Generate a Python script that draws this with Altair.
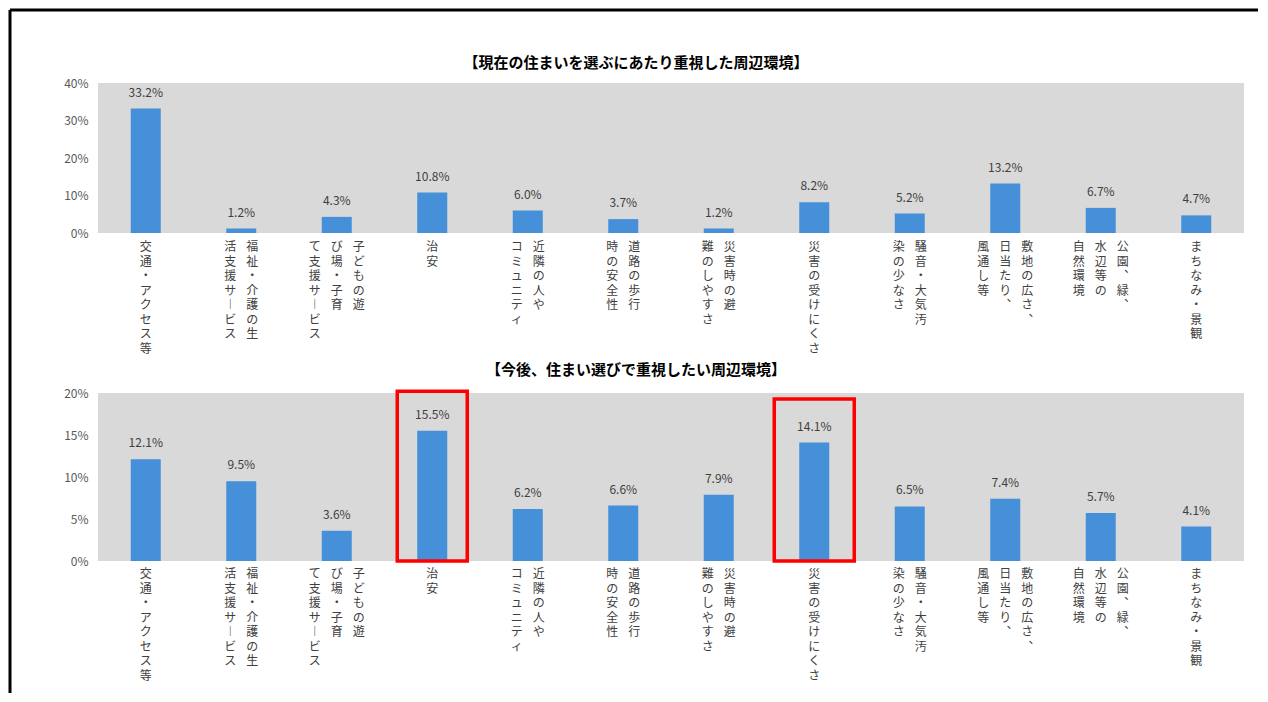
import altair as alt
import pandas as pd

# ---------------- data ----------------
cats = [
    "交通・アクセス等",
    "福祉・介護の生活支援サービス",
    "子どもの遊び場・子育て支援サービス",
    "治安",
    "近隣の人やコミュニティ",
    "道路の歩行時の安全性",
    "災害時の避難のしやすさ",
    "災害の受けにくさ",
    "騒音・大気汚染の少なさ",
    "敷地の広さ、日当たり、風通し等",
    "公園、緑、水辺等の自然環境",
    "まちなみ・景観",
]
# label columns (right-to-left vertical writing)
label_cols = [
    ["交通・アクセス等"],
    ["福祉・介護の生", "活支援サービス"],
    ["子どもの遊", "び場・子育", "て支援サービス"],
    ["治安"],
    ["近隣の人や", "コミュニティ"],
    ["道路の歩行", "時の安全性"],
    ["災害時の避", "難のしやすさ"],
    ["災害の受けにくさ"],
    ["騒音・大気汚", "染の少なさ"],
    ["敷地の広さ、", "日当たり、", "風通し等"],
    ["公園、緑、", "水辺等の", "自然環境"],
    ["まちなみ・景観"],
]
current = [33.2, 1.2, 4.3, 10.8, 6.0, 3.7, 1.2, 8.2, 5.2, 13.2, 6.7, 4.7]
future = [12.1, 9.5, 3.6, 15.5, 6.2, 6.6, 7.9, 14.1, 6.5, 7.4, 5.7, 4.1]
top_ticks = [0, 10, 20, 30, 40]
bot_ticks = [0, 5, 10, 15, 20]
title_top_text = "【現在の住まいを選ぶにあたり重視した周辺環境】"
title_bot_text = "【今後、住まい選びで重視したい周辺環境】"
highlight = ["治安", "災害の受けにくさ"]

# ---------------- layout constants ----------------
W = 1146
TOP_H = 150
BOT_TOP, BOT_BOT = 310, 478
BLUE = "#4590d8"
GREY = "#d9d9d9"
FONT = "Noto Sans CJK JP"
COL_SP = 22

VMAP = {"ー": "︱", "、": "︑"}


def vert(s):
    return "\n".join(VMAP.get(c, c) for c in s)


rows = []
for c, cols in zip(cats, label_cols):
    n = len(cols)
    for j, t in enumerate(cols):
        rows.append({"cat": c, "n": n, "j": j, "t": vert(t)})
labels_df = pd.DataFrame(rows)

df_top = pd.DataFrame({"cat": cats, "v": current})
df_bot = pd.DataFrame({"cat": cats, "v": future})
one = pd.DataFrame({"a": [0]})

xenc = alt.X("cat:N", sort=cats, scale=alt.Scale(paddingInner=0, paddingOuter=0), axis=None)


def panel(df, ymax, rng, ticks, label_dy, title_text, title_dy):
    yscale = alt.Scale(domain=[0, ymax], range=rng, nice=False, zero=True)
    yaxis = alt.Axis(values=ticks, labelExpr="datum.value + '%'", orient="left",
                     ticks=False, domain=False, grid=False, labelPadding=10,
                     labelFontSize=12, labelColor="#595959", labelFont=FONT, title=None)
    bg = alt.Chart(one).mark_rect(color=GREY).encode(
        x=alt.value(0), x2=alt.value(W),
        y=alt.YDatum(0, axis=yaxis, scale=yscale, title=None), y2=alt.Y2Datum(ymax),
    )
    bars = alt.Chart(df).mark_bar(size=30, color=BLUE).encode(
        x=xenc,
        y=alt.Y("v:Q", scale=yscale, title=None, axis=yaxis),
    )
    vals = alt.Chart(df).transform_calculate(
        lbl="format(datum.v, '.1f') + '%'"
    ).mark_text(baseline="bottom", dy=-9, fontSize=12, color="#404040").encode(
        x=xenc, y=alt.Y("v:Q", axis=yaxis, title=None), text="lbl:N"
    )
    labs = []
    for n in (1, 2, 3):
        for j in range(n):
            labs.append(
                alt.Chart(labels_df).transform_filter(
                    (alt.datum.n == n) & (alt.datum.j == j)
                ).mark_text(
                    baseline="top", align="center", lineBreak="\n", lineHeight=14.5,
                    fontSize=12, color="#404040", dy=label_dy,
                    dx=((n - 1) / 2 - j) * COL_SP,
                ).encode(x=xenc, y=alt.YDatum(0, axis=yaxis, title=None), text="t:N")
            )
    title = alt.Chart(one).mark_text(
        text=title_text, fontSize=15, fontWeight="bold", color="#000000",
        baseline="middle", dx=-35, dy=title_dy,
    ).encode(x=alt.value(W / 2), y=alt.YDatum(ymax, axis=yaxis, title=None))
    return [bg, bars, vals] + labs + [title], yaxis


top_layers, _ = panel(df_top, 40, [TOP_H, 0], top_ticks, 9, title_top_text, -20)
bot_layers, bot_axis = panel(df_bot, 20, [BOT_BOT, BOT_TOP], bot_ticks, 8, title_bot_text, -23)

box1 = alt.Chart(pd.DataFrame({"cat": [highlight[0]]})).mark_bar(
    size=70, filled=False, color="#ff0000", stroke="#ff0000", strokeWidth=3.5
).encode(x=xenc, y=alt.YDatum(20.2, axis=bot_axis, title=None), y2=alt.Y2Datum(0))
box2 = alt.Chart(pd.DataFrame({"cat": [highlight[1]]})).mark_bar(
    size=80, filled=False, color="#ff0000", stroke="#ff0000", strokeWidth=3.5
).encode(x=xenc, y=alt.YDatum(19.3, axis=bot_axis, title=None), y2=alt.Y2Datum(0))

top = alt.layer(*top_layers)
bottom = alt.layer(*(bot_layers + [box1, box2]))

frame_top = alt.Chart(one).mark_rule(color="black", strokeWidth=3).encode(
    x=alt.value(-88), x2=alt.value(1160), y=alt.value(-73)
)
frame_left = alt.Chart(one).mark_rule(color="black", strokeWidth=3).encode(
    x=alt.value(-88), y=alt.value(-73), y2=alt.value(610)
)

chart = alt.layer(top, bottom, frame_top, frame_left).resolve_scale(
    y="independent"
).properties(
    width=W, height=BOT_BOT, padding=0, background="white"
).configure(font=FONT).configure_view(stroke=None)

chart.save("out.html", embed_options={"renderer": "svg", "actions": False})
